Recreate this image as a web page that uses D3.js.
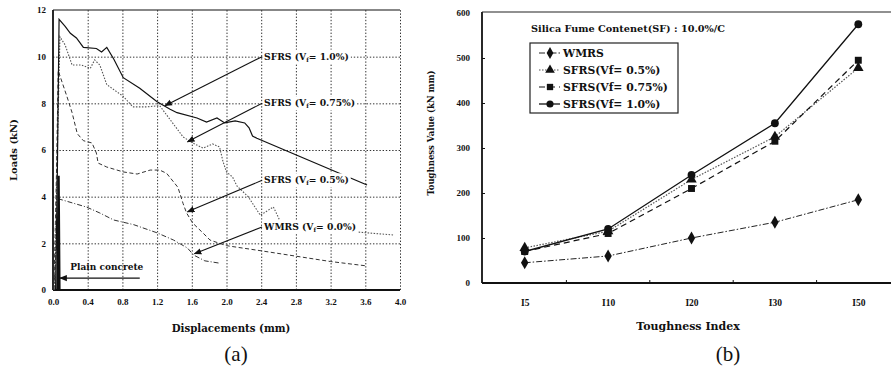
<!DOCTYPE html>
<html>
<head>
<meta charset="utf-8">
<script src="https://cdn.jsdelivr.net/npm/d3@7"></script>
<style>
body { margin: 0; background: #fff; }
svg text { font-family: "Liberation Serif", "Times New Roman", serif; font-weight: bold; fill: #111; }
svg text.wide { font-family: "DejaVu Serif", serif; }
</style>
</head>
<body>
<div id="chart"></div>
<script>
// ---- (a) load vs displacement, points are [mm, kN]
const dispTicks = [0, 0.4, 0.8, 1.2, 1.6, 2.0, 2.4, 2.8, 3.2, 3.6, 4.0]
const loadTicks = [0, 2, 4, 6, 8, 10, 12]

const sfrs10 = [[0.03,0],[0.05,5],[0.07,11.6],[0.14,11.3],[0.2,11.0],[0.27,10.8],[0.31,10.6],[0.35,10.4],
  [0.5,10.35],[0.56,10.2],[0.62,10.4],[0.7,9.9],[0.81,9.1],[1.0,8.65],[1.2,8.07],[1.35,7.75],[1.43,7.6],
  [1.66,7.37],[1.77,7.2],[1.89,7.37],[1.98,7.16],[2.1,7.25],[2.21,7.16],[2.26,6.95],[2.3,6.6],[2.35,6.5],[3.62,4.5]]
const sfrs075 = [[0.02,0],[0.05,6],[0.08,10.85],[0.14,10.5],[0.22,9.64],[0.33,9.64],[0.43,9.5],[0.48,9.86],
  [0.54,9.64],[0.62,8.8],[0.81,8.3],[0.92,7.85],[1.08,7.85],[1.23,7.9],[1.31,7.5],[1.5,6.56],[1.61,6.3],
  [1.73,6.08],[1.84,6.26],[1.92,6.13],[1.96,5.5],[2.0,5.06],[2.07,4.84],[2.12,4.46],[2.25,4.0],[2.39,3.2],
  [2.54,3.56],[2.6,3.1],[2.64,2.7],[3.4,2.6],[3.46,2.5],[3.92,2.36]]
const sfrs05 = [[0.01,0],[0.04,5],[0.06,9.4],[0.16,8.3],[0.22,7.6],[0.28,6.7],[0.35,6.4],[0.45,6.3],[0.5,5.87],
  [0.52,5.44],[0.62,5.27],[0.81,5.06],[0.97,4.97],[1.12,5.14],[1.23,5.14],[1.31,5.0],[1.44,4.4],[1.5,3.7],
  [1.54,3.3],[1.61,2.87],[1.73,2.44],[1.81,2.14],[1.92,2.0],[2.0,1.9],[2.4,1.68],[2.8,1.45],[3.2,1.22],[3.62,1.03]]
const wmrs = [[0.01,0],[0.04,2],[0.07,3.9],[0.39,3.55],[0.54,3.3],[0.7,3.0],[0.93,2.8],[1.2,2.45],[1.39,2.14],
  [1.55,1.8],[1.62,1.5],[1.75,1.25],[1.92,1.15]]
const plain = [[0.05,0],[0.065,4.9],[0.075,0],[0.2,0]]

// annotation: label anchor [mm, kN] and arrow tip [mm, kN]
const curveLabels = ["SFRS (V|f|= 1.0%)", "SFRS (V|f|= 0.75%)", "SFRS (V|f|= 0.5%)", "WMRS (V|f|= 0.0%)"]
const labelAt = [[2.41,10.0],[2.41,8.0],[2.41,4.7],[2.41,2.7]]
const arrowTip = [[1.29,7.9],[1.55,6.35],[1.55,3.35],[1.63,1.55]]

// ---- (b) toughness index
const indexes = ["I5", "I10", "I20", "I30", "I50"]
const toughTicks = [0, 100, 200, 300, 400, 500, 600]
const wmrsT = [45, 60, 100, 135, 185]
const sfrs05T = [78, 115, 230, 325, 478]
const sfrs075T = [70, 110, 210, 315, 495]
const sfrs10T = [70, 120, 240, 355, 575]
const legendNames = ["WMRS", "SFRS(Vf= 0.5%)", "SFRS(Vf= 0.75%)", "SFRS(Vf= 1.0%)"]

const svg = d3.select("#chart").append("svg")
  .attr("width", 891)
  .attr("height", 376)
  .style("background", "#fff")

svg.append("defs").append("marker")
  .attr("id", "head")
  .attr("viewBox", "0 0 10 10")
  .attr("refX", 9).attr("refY", 5)
  .attr("markerWidth", 7).attr("markerHeight", 7)
  .attr("orient", "auto-start-reverse")
  .append("path")
    .attr("d", "M0,1 L10,5 L0,9 Z")
    .attr("fill", "#111")

/* ------- (a) -------*/
const x = d3.scaleLinear().domain([0, 4]).range([53, 400])
const y = d3.scaleLinear().domain([0, 12]).range([290, 10])
const a = svg.append("g")

const gx = a.append("g")
  .attr("transform", "translate(0,290)")
  .call(d3.axisBottom(x).tickValues(dispTicks).tickSize(-280).tickPadding(9).tickFormat(d3.format(".1f")))
const gy = a.append("g")
  .attr("transform", "translate(53,0)")
  .call(d3.axisLeft(y).tickValues(loadTicks).tickSize(-347).tickPadding(7).tickFormat(d3.format("d")))

for (const g of [gx, gy]) {
  g.select(".domain").remove()
  g.selectAll(".tick line")
    .attr("stroke", "#333")
    .attr("stroke-width", 1)
    .attr("stroke-dasharray", "1.4,1.8")
  g.selectAll(".tick text").style("font-size", "9px")
}
gx.selectAll(".tick").filter(d => d === 0).select("line").remove()
gy.selectAll(".tick").filter(d => d === 0 || d === 12).select("line").remove()

// frame
a.append("line").attr("x1", x(0)).attr("x2", x(4)).attr("y1", y(12)).attr("y2", y(12))
  .attr("stroke", "#111").attr("stroke-width", 1.2)
a.append("line").attr("x1", x(0)).attr("x2", x(4)).attr("y1", y(0)).attr("y2", y(0))
  .attr("stroke", "#111").attr("stroke-width", 1.8)
a.append("line").attr("x1", x(0)).attr("x2", x(0)).attr("y1", y(0)).attr("y2", y(12))
  .attr("stroke", "#111").attr("stroke-width", 1.8)

const line = d3.line().x(d => x(d[0])).y(d => y(d[1]))
const curves = [
  { pts: wmrs, dash: "5,2,1,2", color: "#333", w: 1 },
  { pts: sfrs05, dash: "4,2.5", color: "#333", w: 1 },
  { pts: sfrs075, dash: "1.5,1.5", color: "#555", w: 1.1 },
  { pts: sfrs10, dash: null, color: "#111", w: 1.2 },
  { pts: plain, dash: null, color: "#111", w: 2.2 }
]
a.append("g").attr("class", "curves").selectAll("path")
  .data(curves)
  .join("path")
    .attr("d", d => line(d.pts))
    .attr("fill", "none")
    .attr("stroke", d => d.color)
    .attr("stroke-width", d => d.w)
    .attr("stroke-dasharray", d => d.dash)

// arrows and labels
const ann = a.append("g").attr("class", "labels")
curveLabels.forEach((lab, i) => {
  ann.append("line")
    .attr("x1", x(labelAt[i][0])).attr("y1", y(labelAt[i][1]))
    .attr("x2", x(arrowTip[i][0])).attr("y2", y(arrowTip[i][1]))
    .attr("stroke", "#111").attr("stroke-width", 1.1)
    .attr("marker-end", "url(#head)")
  const parts = lab.split("|")
  const t = ann.append("text")
    .attr("class", "wide")
    .attr("x", x(labelAt[i][0]) + 2)
    .attr("y", y(labelAt[i][1]) + 3)
    .style("font-size", "9.2px")
  t.append("tspan").text(parts[0])
  t.append("tspan").text(parts[1]).style("font-size", "6px").attr("dy", 2)
  t.append("tspan").text(parts[2]).attr("dy", -2)
  const bb = t.node().getBBox()
  ann.insert("rect", "text")
    .attr("x", bb.x - 1).attr("y", bb.y - 1)
    .attr("width", bb.width + 3).attr("height", bb.height + 2)
    .attr("fill", "#fff")
})

ann.append("line")
  .attr("x1", x(1.0)).attr("y1", y(0.51))
  .attr("x2", x(0.08)).attr("y2", y(0.51))
  .attr("stroke", "#111").attr("stroke-width", 1.1)
  .attr("marker-end", "url(#head)")
ann.append("text")
  .attr("class", "wide")
  .attr("x", x(0.2)).attr("y", y(0.86))
  .style("font-size", "9px")
  .text("Plain concrete")

a.append("text")
  .attr("class", "wide")
  .attr("transform", "translate(17,150) rotate(-90)")
  .attr("text-anchor", "middle")
  .style("font-size", "10px")
  .text("Loads (kN)")
a.append("text")
  .attr("class", "wide")
  .attr("x", 231).attr("y", 332)
  .attr("text-anchor", "middle")
  .style("font-size", "10.2px")
  .text("Displacements (mm)")
a.append("text")
  .attr("x", 236).attr("y", 361)
  .attr("text-anchor", "middle")
  .style("font-size", "21px").style("font-weight", "normal")
  .text("(a)")

/* ------- (b) -------*/
const xb = d3.scaleBand().domain(indexes).range([483, 900])
const xp = d3.scalePoint().domain(indexes).range([483, 900]).padding(0.5)
const y2 = d3.scaleLinear().domain([0, 600]).range([283, 13])
const b = svg.append("g")

const by = b.append("g")
  .attr("transform", "translate(482,0)")
  .call(d3.axisLeft(y2).tickValues(toughTicks).tickSizeInner(-3).tickSizeOuter(0).tickPadding(12))
by.select(".domain").remove()
by.selectAll(".tick").filter(d => d === 0 || d === 600).select("line").remove()
by.selectAll(".tick line").attr("stroke", "#111")
by.selectAll(".tick text").style("font-size", "9px")

const bx = b.append("g")
  .attr("transform", "translate(0,283)")
  .call(d3.axisBottom(xp).tickSize(0).tickPadding(16))
bx.select(".domain").remove()
bx.selectAll(".tick text").style("font-size", "9.5px")

b.append("g").selectAll("line")
  .data(indexes.slice(1))
  .join("line")
    .attr("x1", d => xb(d)).attr("x2", d => xb(d))
    .attr("y1", 283).attr("y2", 280)
    .attr("stroke", "#111")

b.append("line").attr("x1", 482).attr("x2", 891).attr("y1", 283).attr("y2", 283)
  .attr("stroke", "#111").attr("stroke-width", 1.8)
b.append("line").attr("x1", 482).attr("x2", 482).attr("y1", 12).attr("y2", 283)
  .attr("stroke", "#111").attr("stroke-width", 1.8)
b.append("line").attr("x1", 482).attr("x2", 891).attr("y1", 12).attr("y2", 12)
  .attr("stroke", "#222").attr("stroke-width", 1.2)

const series = [
  { vals: wmrsT, dash: "6,2,1.5,2", color: "#222", w: 1, shape: d3.symbolDiamond },
  { vals: sfrs05T, dash: "1.5,1.5", color: "#555", w: 1.2, shape: d3.symbolTriangle },
  { vals: sfrs075T, dash: "6,4", color: "#111", w: 1.2, shape: d3.symbolSquare },
  { vals: sfrs10T, dash: null, color: "#111", w: 1.3, shape: d3.symbolCircle }
]
const line2 = d3.line().x((d, i) => xp(indexes[i])).y(d => y2(d))

const sg = b.append("g").selectAll("g")
  .data(series)
  .join("g")
sg.append("path")
  .attr("d", d => line2(d.vals))
  .attr("fill", "none")
  .attr("stroke", d => d.color)
  .attr("stroke-width", d => d.w)
  .attr("stroke-dasharray", d => d.dash)
sg.selectAll("path.pt")
  .data(d => d.vals.map((v, i) => ({ v, i, shape: d.shape })))
  .join("path")
    .attr("class", "pt")
    .attr("transform", d => "translate(" + xp(indexes[d.i]) + "," + y2(d.v) + ")")
    .attr("d", d => d3.symbol(d.shape, 48)())
    .attr("fill", "#111")

b.append("text")
  .attr("class", "wide")
  .attr("x", 531).attr("y", 32)
  .style("font-size", "9.7px")
  .text("Silica Fume Contenet(SF) : 10.0%/C")

// legend
const lg = b.append("g")
lg.append("rect")
  .attr("x", 530).attr("y", 43).attr("width", 148).attr("height", 70)
  .attr("fill", "#fff").attr("stroke", "#222").attr("stroke-width", 1.2)
const li = lg.selectAll("g.item")
  .data(series)
  .join("g")
    .attr("class", "item")
    .attr("transform", (d, i) => "translate(0," + (53 + i * 17) + ")")
li.append("line")
  .attr("x1", 539).attr("x2", 560)
  .attr("stroke", d => d.color)
  .attr("stroke-width", d => d.w)
  .attr("stroke-dasharray", d => d.dash)
li.append("path")
  .attr("transform", "translate(550,0)")
  .attr("d", d => d3.symbol(d.shape, 40)())
  .attr("fill", "#111")
li.append("text")
  .attr("class", "wide")
  .attr("x", 563).attr("y", 3.5)
  .style("font-size", "10.8px")
  .text((d, i) => legendNames[i])

b.append("text")
  .attr("class", "wide")
  .attr("transform", "translate(434,133) rotate(-90)")
  .attr("text-anchor", "middle")
  .style("font-size", "8.5px")
  .text("Toughness Value (kN mm)")
b.append("text")
  .attr("class", "wide")
  .attr("x", 688).attr("y", 330)
  .attr("text-anchor", "middle")
  .style("font-size", "11px")
  .text("Toughness Index")
b.append("text")
  .attr("x", 728).attr("y", 361)
  .attr("text-anchor", "middle")
  .style("font-size", "21px").style("font-weight", "normal")
  .text("(b)")
</script>
</body>
</html>
